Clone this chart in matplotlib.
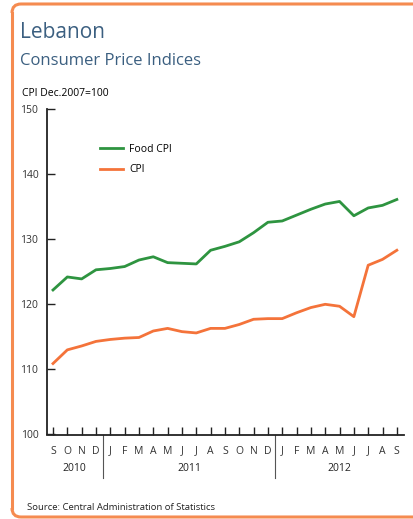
import matplotlib
matplotlib.use('Agg')
from matplotlib import pyplot as plt
from matplotlib.patches import PathPatch
from matplotlib.path import Path
import numpy as np

plt.rcParams['font.family'] = 'Open Sans'

# monthly index values, Sep 2010 - Sep 2012
months = ['S', 'O', 'N', 'D', 'J', 'F', 'M', 'A', 'M', 'J', 'J', 'A',
          'S', 'O', 'N', 'D', 'J', 'F', 'M', 'A', 'M', 'J', 'J', 'A', 'S']
years = ['2010', '2011', '2012']
year_start = [0, 4, 16]
year_end = [3, 15, 24]
food_cpi = [122.2, 124.2, 123.9, 125.3, 125.5, 125.8, 126.8, 127.3, 126.4,
            126.3, 126.2, 128.3, 128.9, 129.6, 131.0, 132.6, 132.8, 133.7,
            134.6, 135.4, 135.8, 133.6, 134.8, 135.2, 136.1]
cpi = [110.9, 113.0, 113.6, 114.3, 114.6, 114.8, 114.9, 115.9, 116.3,
       115.8, 115.6, 116.3, 116.3, 116.9, 117.7, 117.8, 117.8, 118.7,
       119.5, 120.0, 119.7, 118.1, 126.0, 126.9, 128.3]
yticks = [100, 110, 120, 130, 140, 150]

green = '#2e9440'
orange = '#f4733a'
title_col = '#3b5f80'

fig = plt.figure(figsize=(4.14, 5.19), dpi=100)

# orange frame (in inches), open on the right where the picture is cut
x0, y0, y1, x1, r = 0.12, 0.02, 5.15, 4.14, 0.09
for ya, yb in [(y1, y1 - r), (y0, y0 + r)]:
    verts = [(x1, ya), (x0 + r, ya), (x0, ya), (x0, yb)]
    codes = [Path.MOVETO, Path.LINETO, Path.CURVE3, Path.CURVE3]
    fig.patches.append(PathPatch(Path(verts, codes), transform=fig.dpi_scale_trans,
                                 fill=False, ec='#f58b50', lw=2.2, capstyle='butt',
                                 clip_on=False))
fig.add_artist(plt.Line2D([x0, x0], [y0 + r, y1 - r], transform=fig.dpi_scale_trans,
                          color='#f58b50', lw=2.2))

fig.text(20/414, 1 - 33/519, 'Lebanon', fontsize=15, color=title_col, va='center')
fig.text(20/414, 1 - 61/519, 'Consumer Price Indices', fontsize=12, color=title_col, va='center')
fig.text(22/414, 1 - 93/519, 'CPI Dec.2007=100', fontsize=7.5, color='black', va='center')
fig.text(27/414, 1 - 507/519, 'Source: Central Administration of Statistics', fontsize=6.8,
         color='#222222', va='center')

ax = fig.add_axes([46.7/414, 1 - 434.5/519, 357.3/414, 325.5/519])
x = np.arange(len(months))
ax.plot(x, food_cpi, color=green, lw=2, label='Food CPI')
ax.plot(x, cpi, color=orange, lw=2, label='CPI')

ax.set_xlim(-0.44, 24.5)
ax.set_ylim(100, 150)
ax.set_yticks(yticks)
ax.set_xticks(x)
ax.set_xticklabels(months)
ax.tick_params(axis='both', direction='in', length=5.5, width=1, color='#222222',
               labelsize=7.5, labelcolor='#333333')
ax.tick_params(axis='x', pad=8)
ax.tick_params(axis='y', pad=6)
ax.spines['top'].set_visible(False)
ax.spines['right'].set_visible(False)
for s in ['left', 'bottom']:
    ax.spines[s].set_linewidth(1.3)
    ax.spines[s].set_color('#222222')

# year separators and labels under the month letters
for b in year_end[:-1]:
    ax.plot([b + 0.5, b + 0.5], [0, -0.134], transform=ax.get_xaxis_transform(),
            color='#555555', lw=0.8, clip_on=False)
for yr, a, b in zip(years, year_start, year_end):
    ax.text((a + b) / 2, -0.103, yr, transform=ax.get_xaxis_transform(),
            ha='center', va='center', fontsize=7.5, color='#222222')

ax.legend(loc='upper left', bbox_to_anchor=(0.135, 0.91), frameon=False,
          fontsize=7.5, handlelength=2.2, handletextpad=0.6, labelspacing=0.95,
          borderpad=0)

plt.savefig('out.png', dpi=100)
